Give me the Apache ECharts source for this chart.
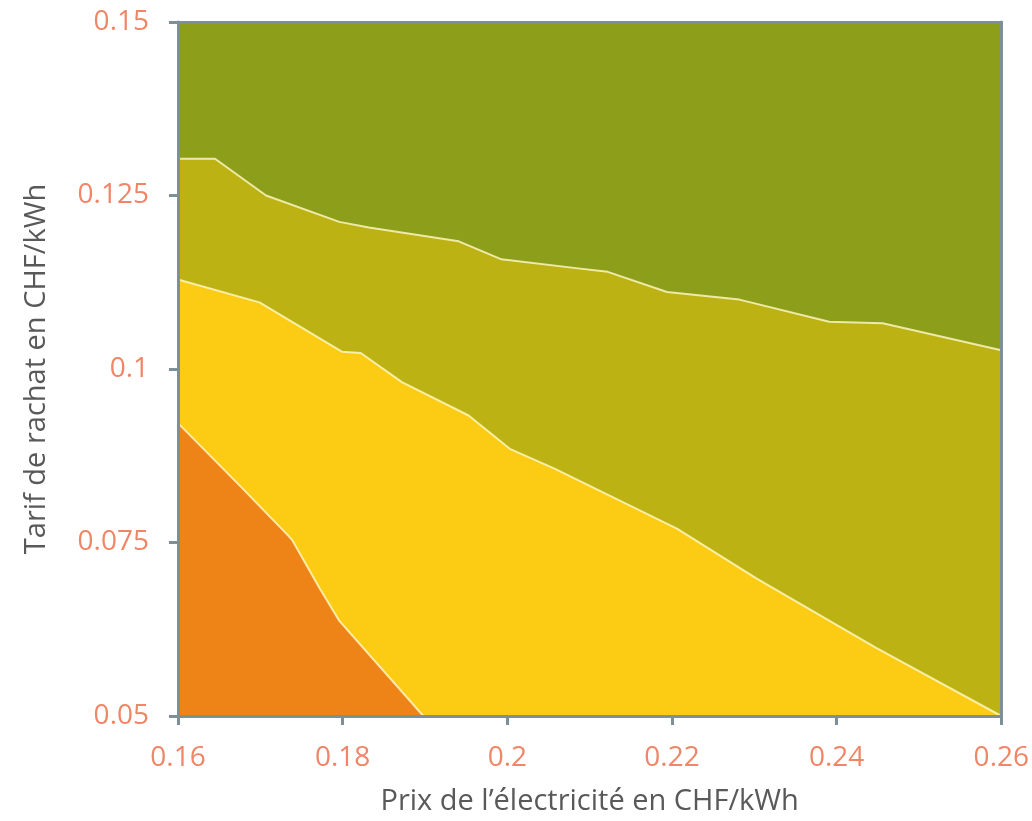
<!DOCTYPE html>
<html>
<head>
<meta charset="utf-8">
<script src="https://cdn.jsdelivr.net/npm/echarts@6/dist/echarts.min.js"></script>
<style>
html,body{margin:0;padding:0;background:#fff;}
#chart{width:1032px;height:821px;}
</style>
</head>
<body>
<div id="chart"></div>
<script>
// Axis settings
var xTicks = [0.16, 0.18, 0.2, 0.22, 0.24, 0.26];
var yTicks = [0.05, 0.075, 0.1, 0.125, 0.15];
var xTitle = 'Prix de l’électricité en CHF/kWh';
var yTitle = 'Tarif de rachat en CHF/kWh';

// Boundary between top (green) and second (olive) region
var boundaryTop = [
  [0.16, 0.1303], [0.1645, 0.1303], [0.1707, 0.1250], [0.1796, 0.1212],
  [0.1832, 0.1204], [0.1941, 0.1184], [0.1993, 0.1158], [0.2086, 0.1145],
  [0.2122, 0.1140], [0.2194, 0.1111], [0.2282, 0.1100], [0.2391, 0.1068],
  [0.2456, 0.1066], [0.26, 0.1027]
];
// Boundary between olive and yellow region
var boundaryMid = [
  [0.16, 0.1129], [0.1699, 0.1096], [0.1799, 0.1025], [0.1822, 0.1023],
  [0.1872, 0.0981], [0.1953, 0.0933], [0.2003, 0.0885], [0.2058, 0.0856],
  [0.2206, 0.0770], [0.2303, 0.0698], [0.2448, 0.0598], [0.26, 0.05]
];
// Boundary between yellow and orange region
var boundaryLow = [
  [0.16, 0.0922], [0.1675, 0.0832], [0.1733, 0.0761], [0.1739, 0.0753],
  [0.1772, 0.0684], [0.1796, 0.0637], [0.1898, 0.05]
];

var colors = {
  top: '#8d9e1a',
  second: '#bdb213',
  third: '#fccb13',
  bottom: '#ee8418'
};
var axisColor = '#7d8f99';
var labelColor = '#f08668';
var titleColor = '#595959';

function fmt(v) { return String(+v.toFixed(3)); }

function areaSeries(data, color) {
  return {
    type: 'line',
    data: data,
    symbol: 'none',
    smooth: false,
    lineStyle: { color: 'rgba(255,250,205,0.8)', width: 2 },
    areaStyle: { color: color, opacity: 1, origin: 'start' },
    z: 2
  };
}

var chart = echarts.init(document.getElementById('chart'));
chart.setOption({
  animation: false,
  grid: {
    left: 178, right: 25, top: 22, bottom: 103,
    show: true, backgroundColor: colors.top, borderWidth: 0
  },
  xAxis: [{
    type: 'value', min: 0.16, max: 0.26, interval: 0.02,
    z: 10,
    axisLine: { show: true, lineStyle: { color: axisColor, width: 3 } },
    axisTick: { show: true, length: 9, lineStyle: { color: axisColor, width: 3 } },
    splitLine: { show: false },
    axisLabel: { color: labelColor, fontSize: 28, fontFamily: 'Open Sans', margin: 28, formatter: fmt },
    name: xTitle, nameLocation: 'middle', nameGap: 71,
    nameTextStyle: { color: titleColor, fontSize: 29, fontFamily: 'Open Sans' }
  }, {
    type: 'value', min: 0.16, max: 0.26, position: 'top', z: 10,
    axisLine: { show: true, lineStyle: { color: axisColor, width: 3 } },
    axisTick: { show: false }, axisLabel: { show: false }, splitLine: { show: false }
  }],
  yAxis: [{
    type: 'value', min: 0.05, max: 0.15, interval: 0.025,
    z: 10,
    axisLine: { show: true, lineStyle: { color: axisColor, width: 3 } },
    axisTick: { show: true, length: 9, lineStyle: { color: axisColor, width: 3 } },
    splitLine: { show: false },
    axisLabel: { color: labelColor, fontSize: 28, fontFamily: 'Open Sans', margin: 29, formatter: fmt },
    name: yTitle, nameLocation: 'middle', nameGap: 127,
    nameTextStyle: { color: titleColor, fontSize: 29, fontFamily: 'Open Sans' }
  }, {
    type: 'value', min: 0.05, max: 0.15, position: 'right', z: 10,
    axisLine: { show: true, lineStyle: { color: axisColor, width: 3 } },
    axisTick: { show: false }, axisLabel: { show: false }, splitLine: { show: false }
  }],
  series: [
    areaSeries(boundaryTop, colors.second),
    areaSeries(boundaryMid, colors.third),
    areaSeries(boundaryLow, colors.bottom)
  ]
});
</script>
</body>
</html>
